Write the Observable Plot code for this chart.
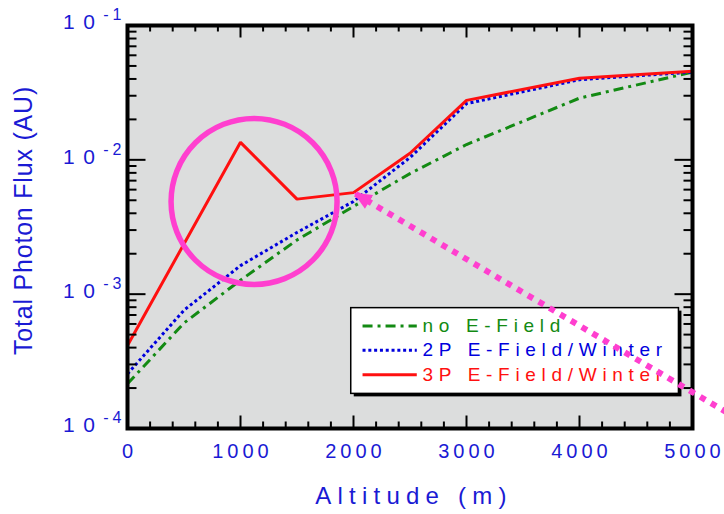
<!DOCTYPE html>
<html>
<head>
<meta charset="utf-8">
<script src="https://cdn.jsdelivr.net/npm/d3@7"></script>
<script src="https://cdn.jsdelivr.net/npm/@observablehq/plot@0.6"></script>
<style>
  html, body { margin: 0; padding: 0; background: #fff; }
  .flux-chart text { letter-spacing: 0.2em; }
  .flux-chart g[aria-label="y-axis tick label"] text { letter-spacing: 0.4em; }
  .flux-chart g[aria-label="y-axis tick label"] tspan { letter-spacing: 4px; }
</style>
</head>
<body>
<div id="chart"></div>
<script>
// Altitude grid (m) shared by the no-field and 2-phase runs
const altitude = [0, 500, 1000, 1500, 2000, 2500, 3000, 4000, 5000];
const fluxNoField = [2.15e-4, 6.1e-4, 1.27e-3, 2.53e-3, 4.5e-3, 7.9e-3, 1.3e-2, 2.88e-2, 4.5e-2];
const flux2P = [2.55e-4, 7.6e-4, 1.63e-3, 2.88e-3, 4.9e-3, 1.04e-2, 2.62e-2, 3.95e-2, 4.5e-2];
// The 3-phase run is sampled on a coarser grid
const altitude3P = [0, 1000, 1500, 2000, 2500, 3000, 4000, 5000];
const flux3P = [4.15e-4, 1.35e-2, 5.1e-3, 5.7e-3, 1.12e-2, 2.77e-2, 4.05e-2, 4.57e-2];

const seriesNames = ["no E-Field", "2P E-Field/Winter", "3P E-Field/Winter"];
const xTickValues = [0, 1000, 2000, 3000, 4000, 5000];
const yTickValues = [1e-4, 1e-3, 1e-2, 1e-1];
const xTitle = "Altitude (m)";
const yTitle = "Total Photon Flux (AU)";

// Annotation: circled anomaly and a pointer to the 3P sample at 2000 m
const circleCenter = {altitude: 1120, flux: 4.9e-3};
const pointerTail = {altitude: 5400, flux: 1.18e-4};
const pointerAltitude = 2000;

// ---- styling ----
const axisBlue = "#1a1ad4";
const pink = "#ff3fcf";
const panelGray = "#dcdddd";
const colors = ["#138a13", "#0000dd", "#ff1010"];
const dashes = ["10,5,3,5", "3,2.8", null];

const series = [
  {name: seriesNames[0], alt: altitude, flux: fluxNoField},
  {name: seriesNames[1], alt: altitude, flux: flux2P},
  {name: seriesNames[2], alt: altitude3P, flux: flux3P}
].map((s, i) => ({
  ...s,
  color: colors[i],
  dash: dashes[i],
  rows: s.alt.map((a, j) => ({altitude: a, flux: s.flux[j]}))
}));

// Legend box, placed in the lower right of the panel (data units)
const legend = {x1: 1980, x2: 4880, y1: 1.81e-4, y2: 7.87e-4,
                sampleX: [2080, 2560], textX: 2610, rowY: [5.8e-4, 3.82e-4, 2.51e-4]};

// Inward tick marks drawn as short segments
const seg = (dx, dy) => ({draw(ctx) { ctx.moveTo(0, 0); ctx.lineTo(dx, dy); }});
const tickStyle = {fill: "none", stroke: "black", strokeWidth: 2};
const xMinor = d3.range(200, 5000, 200).filter(d => d % 1000 !== 0);
const yMinor = [1e-4, 1e-3, 1e-2].flatMap(p => d3.range(2, 10).map(k => k * p));

// Filled arrowhead with its tip at the origin, pointing up-left
const arrowHead = {draw(ctx) {
  const ux = -0.861, uy = -0.508, L = 18, W = 8;
  const bx = -ux * L, by = -uy * L;
  ctx.moveTo(0, 0);
  ctx.lineTo(bx - uy * W, by + ux * W);
  ctx.lineTo(bx + uy * W, by - ux * W);
  ctx.closePath();
}};
const pointerHead = {altitude: pointerAltitude, flux: flux3P[altitude3P.indexOf(pointerAltitude)]};

const chart = Plot.plot({
  width: 724,
  height: 514,
  marginLeft: 127,
  marginRight: 32,
  marginTop: 25,
  marginBottom: 86,
  className: "flux-chart",
  style: {fontFamily: "'Liberation Sans', Arial, sans-serif", background: "white"},
  x: {domain: [0, 5000]},
  y: {type: "log", domain: [1e-4, 1e-1]},
  marks: [
    Plot.frame({fill: panelGray, stroke: "none"}),

    // data series
    ...series.map(s => Plot.line(s.rows, {
      x: "altitude", y: "flux", stroke: s.color, strokeWidth: 3,
      strokeDasharray: s.dash, strokeLinecap: "butt", strokeLinejoin: "miter"
    })),

    // ticks on all four sides
    Plot.dot(xTickValues, {x: d => d, frameAnchor: "bottom", symbol: seg(0, -13), ...tickStyle}),
    Plot.dot(xMinor, {x: d => d, frameAnchor: "bottom", symbol: seg(0, -7), ...tickStyle}),
    Plot.dot(xTickValues, {x: d => d, frameAnchor: "top", symbol: seg(0, 12), ...tickStyle}),
    Plot.dot(xMinor, {x: d => d, frameAnchor: "top", symbol: seg(0, 6), ...tickStyle}),
    Plot.dot(yTickValues, {y: d => d, frameAnchor: "left", symbol: seg(18, 0), ...tickStyle}),
    Plot.dot(yMinor, {y: d => d, frameAnchor: "left", symbol: seg(9, 0), ...tickStyle}),
    Plot.dot(yTickValues, {y: d => d, frameAnchor: "right", symbol: seg(-18, 0), ...tickStyle}),
    Plot.dot(yMinor, {y: d => d, frameAnchor: "right", symbol: seg(-9, 0), ...tickStyle}),

    Plot.frame({stroke: "black", strokeWidth: 4}),

    // axes
    Plot.axisX({ticks: xTickValues, tickSize: 0, tickPadding: 15, fontSize: 20, color: axisBlue,
                label: null, tickFormat: d => String(d), dx: 2}),
    Plot.axisY({ticks: yTickValues, tickSize: 0, tickPadding: 2, fontSize: 21, color: axisBlue,
                label: null, tickFormat: d => "10^" + Math.round(Math.log10(d)), dy: -3}),
    Plot.text([xTitle], {text: d => d, frameAnchor: "bottom", dy: 75, dx: 4, fontSize: 24, fill: axisBlue}),
    Plot.text([yTitle], {text: d => d, frameAnchor: "left", textAnchor: "middle", dx: -104, dy: -6.5,
                         rotate: -90, fontSize: 25, fill: axisBlue}),

    // legend
    Plot.rect([legend], {x1: "x1", x2: "x2", y1: "y1", y2: "y2", fill: "black", dx: 3, dy: 3}),
    Plot.rect([legend], {x1: "x1", x2: "x2", y1: "y1", y2: "y2", fill: "white", stroke: "black", strokeWidth: 1.5}),
    ...series.map((s, i) => Plot.link([s], {
      x1: () => legend.sampleX[0], x2: () => legend.sampleX[1],
      y1: () => legend.rowY[i], y2: () => legend.rowY[i],
      stroke: s.color, strokeWidth: 3, strokeDasharray: s.dash, strokeLinecap: "butt"
    })),
    ...series.map((s, i) => Plot.text([s], {
      x: () => legend.textX, y: () => legend.rowY[i], text: d => d.name,
      textAnchor: "start", fill: s.color, fontSize: 19
    })),

    // annotation
    Plot.dot([circleCenter], {x: "altitude", y: "flux", r: 83, fill: "none", stroke: pink, strokeWidth: 5.5}),
    Plot.link([pointerTail], {
      x1: "altitude", y1: "flux", x2: () => pointerHead.altitude, y2: () => pointerHead.flux,
      stroke: pink, strokeWidth: 6, strokeDasharray: "6,6.5", strokeLinecap: "butt"
    }),
    Plot.dot([pointerHead], {x: "altitude", y: "flux", symbol: arrowHead, fill: pink, stroke: "none"})
  ]
});

document.getElementById("chart").appendChild(chart);

const root = d3.select(chart);
// Power-of-ten labels: raise the exponent
root.selectAll('g[aria-label="y-axis tick label"] text').each(function () {
  const [base, exp] = this.textContent.split("^");
  const t = d3.select(this).text(base);
  t.append("tspan").attr("dy", "-0.55em").attr("font-size", "16px").text(exp);
});
// Text-specific spacing
root.selectAll("text").filter(function () { return seriesNames.includes(this.textContent); })
  .style("letter-spacing", "0.3em");
root.selectAll("text").filter(function () { return this.textContent === xTitle; })
  .style("letter-spacing", "0.26em");
root.selectAll("text").filter(function () { return this.textContent === yTitle; })
  .style("letter-spacing", "0.8px");
</script>
</body>
</html>
